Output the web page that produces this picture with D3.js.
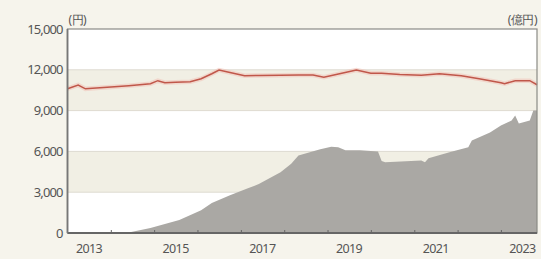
<!DOCTYPE html>
<html><head><meta charset="utf-8">
<script src="https://cdn.jsdelivr.net/npm/d3@7"></script>
<style>
html,body{margin:0;padding:0;background:#f6f4ec;}
svg{display:block;}
text{font-family:"Noto Sans","DejaVu Sans",sans-serif;fill:#555;}
</style></head><body>
<script>
// Base price (円), months since 2013-01
const priceMonths = [0,3,5,9,13,17,20,23,25,27,30,34,37,40,42,45,49,53,59,64,68,71,76,80,84,87,92,98,103,109,114,120,121,124,128,130];
const priceValues = [10610,10880,10600,10680,10760,10830,10900,10980,11200,11050,11080,11120,11340,11710,11980,11800,11560,11580,11600,11620,11610,11460,11750,11980,11750,11750,11650,11600,11710,11560,11340,11050,10980,11200,11200,10900];
// Net assets (億円)
const assetMonths = [0,14,17,23,31,37,40,45,50,53,59,62,64,70,73,75,77,81,86,87,88,98,99,100,106,111,112,117,120,123,124,125,128,129,130];
const assetValues = [0,0,30,370,950,1680,2200,2780,3290,3600,4470,5100,5700,6150,6350,6300,6080,6080,6000,5300,5200,5340,5200,5500,5950,6300,6810,7390,7900,8270,8640,8050,8270,9000,9000];
const yTicks = [0,3000,6000,9000,12000,15000];
const yearLabels = ["2013","2015","2017","2019","2021","2023"];
const leftUnit = "(円)", rightUnit = "(億円)";

const W=541,H=259;
const m={l:67.5,r:537,t:29,b:233};
const svg=d3.select("body").append("svg").attr("width",W).attr("height",H);
const x=d3.scaleTime().domain([new Date(2013,0,1),new Date(2023,10,1)]).range([m.l,m.r]);
const y=d3.scaleLinear().domain([0,15000]).range([m.b,m.t]);
const md=k=>new Date(2013,k,1);

// plot background
svg.append("rect").attr("x",m.l).attr("y",m.t).attr("width",m.r-m.l).attr("height",m.b-m.t).attr("fill","#fff");
[[9000,12000],[3000,6000]].forEach(b=>{
  svg.append("rect").attr("x",m.l).attr("width",m.r-m.l).attr("y",y(b[1])).attr("height",y(b[0])-y(b[1])).attr("fill","#f1efe4");
});
yTicks.slice(1,-1).forEach(t=>{
  svg.append("line").attr("x1",m.l).attr("x2",m.r).attr("y1",y(t)).attr("y2",y(t)).attr("stroke","#dedbd0").attr("stroke-width",1);
});

// area
const area=d3.area().x((d,i)=>x(md(assetMonths[i]))).y0(y(0)).y1(d=>y(d));
svg.append("path").datum(assetValues).attr("d",area).attr("fill","#aaa8a4");

// price line
const line=d3.line().x((d,i)=>x(md(priceMonths[i]))).y(d=>y(d));
svg.append("path").datum(priceValues).attr("d",line).attr("fill","none").attr("stroke","#f2c6bc").attr("stroke-width",4.5).attr("opacity",0.6);
svg.append("path").datum(priceValues).attr("d",line).attr("fill","none").attr("stroke","#c0574a").attr("stroke-width",1.5);

// frame
svg.append("rect").attr("x",m.l).attr("y",m.t).attr("width",m.r-m.l).attr("height",m.b-m.t).attr("fill","none").attr("stroke","#8a8a86").attr("stroke-width",1.2);
svg.append("line").attr("x1",m.l).attr("x2",m.r).attr("y1",m.b).attr("y2",m.b).attr("stroke","#666").attr("stroke-width",1.8);
svg.append("line").attr("x1",m.l).attr("x2",m.l).attr("y1",m.t).attr("y2",m.b).attr("stroke","#777").attr("stroke-width",1.8);

// y axis
const ya=svg.append("g").attr("transform",`translate(${m.l},0)`).call(d3.axisLeft(y).tickValues(yTicks).tickSize(0).tickPadding(5).tickFormat(d3.format(",")));
ya.select(".domain").remove();
ya.selectAll("text").style("font-size","13px").attr("fill","#555").style("letter-spacing","-0.9px");

// x axis ticks (yearly) and labels (mid-year)
const years=d3.range(2014,2024).map(yy=>new Date(yy,0,1));
const xa=svg.append("g").attr("transform",`translate(0,${m.b})`).call(d3.axisBottom(x).tickValues(years).tickSize(-3).tickFormat(""));
xa.select(".domain").remove();
xa.selectAll("line").attr("stroke","#666");
svg.append("g").selectAll("text").data(yearLabels).join("text")
  .attr("x",d=>x(new Date(+d,6,1))).attr("y",253).attr("text-anchor","middle")
  .style("font-size","12.5px").style("letter-spacing","-0.6px").text(d=>d);

svg.append("text").attr("x",m.l+1).attr("y",24).style("font-size","12px").style("letter-spacing","-0.5px").text(leftUnit);
svg.append("text").attr("x",m.r).attr("y",24).attr("text-anchor","end").style("font-size","12px").style("letter-spacing","-0.5px").text(rightUnit);
</script>
</body></html>
